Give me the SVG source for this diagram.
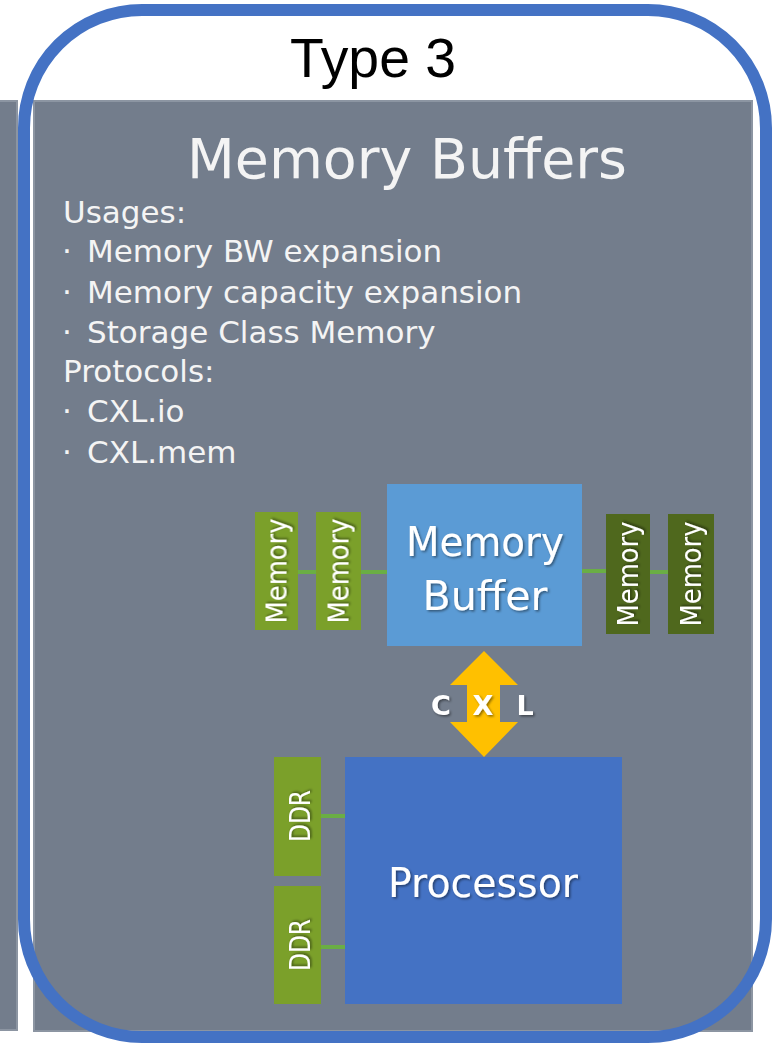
<svg xmlns="http://www.w3.org/2000/svg" width="782" height="1045" viewBox="0 0 782 1045">
  <defs>
    <filter id="shadow" x="-20%" y="-20%" width="140%" height="140%">
      <feDropShadow dx="1.5" dy="1.5" stdDeviation="1" flood-color="#000" flood-opacity="0.45"/>
    </filter>
    <style>
      .panel { fill: #737d8c; stroke: #8c95a2; stroke-width: 2; }
      .frame { fill: none; stroke: #4472c4; stroke-width: 12; }
      .txt { font-family: "DejaVu Sans", Verdana, sans-serif; fill: #f4f4f4; }
      .list { font-size: 31px; }
      .box-label { font-family: "DejaVu Sans", Verdana, sans-serif; fill: #ffffff; font-size: 40px; text-anchor: middle; filter: url(#shadow); }
      .stick-light { fill: #7ba02a; }
      .stick-dark { fill: #4f681d; }
      .stick-label { font-family: "DejaVu Sans", Verdana, sans-serif; fill: #ffffff; font-size: 29px; text-anchor: middle; filter: url(#shadow); }
      .link { stroke: #6aae45; stroke-width: 4; fill: none; }
      .cxl { font-family: "DejaVu Sans", Verdana, sans-serif; font-weight: bold; fill: #ffffff; font-size: 27px; text-anchor: middle; filter: url(#shadow); }
    </style>
  </defs>

  <rect width="782" height="1045" fill="#ffffff"/>

  <!-- neighbouring panel, cut at the left edge -->
  <rect class="panel" x="-4" y="101" width="21" height="929"/>

  <!-- main panel -->
  <rect class="panel" x="34" y="101" width="718" height="930"/>

  <!-- outer frame and heading -->
  <g id="frame">
    <rect class="frame" x="24" y="10" width="742" height="1027" rx="118" ry="118"/>
    <text x="373" y="77" font-family="'Liberation Sans', Arial, sans-serif" font-size="55" fill="#000" text-anchor="middle" textLength="166" lengthAdjust="spacingAndGlyphs">Type 3</text>
  </g>

  <!-- panel title and description -->
  <g id="description">
    <text class="txt" x="407" y="178" font-size="56" text-anchor="middle" textLength="440" lengthAdjust="spacingAndGlyphs">Memory  Buffers</text>
    <text class="txt list" x="63" y="223">Usages:</text>
    <text class="txt list" x="62" y="262">·<tspan x="87">Memory BW expansion</tspan></text>
    <text class="txt list" x="62" y="303">·<tspan x="87">Memory capacity expansion</tspan></text>
    <text class="txt list" x="62" y="343">·<tspan x="87">Storage Class Memory</tspan></text>
    <text class="txt list" x="63" y="382">Protocols:</text>
    <text class="txt list" x="62" y="422">·<tspan x="87">CXL.io</tspan></text>
    <text class="txt list" x="62" y="463">·<tspan x="87">CXL.mem</tspan></text>
  </g>

  <!-- connectors -->
  <g id="connectors">
    <line class="link" x1="298" y1="572" x2="316" y2="572"/>
    <line class="link" x1="361" y1="572" x2="387" y2="572"/>
    <line class="link" x1="582" y1="571" x2="606" y2="571"/>
    <line class="link" x1="650" y1="572" x2="668" y2="572"/>
    <line class="link" x1="321" y1="816" x2="345" y2="816"/>
    <line class="link" x1="321" y1="947" x2="345" y2="947"/>
    <polygon id="cxl-link" fill="#ffc000" points="484,651 518,685 500,685 500,722 518,722 484,757 450,722 467,722 467,685 450,685"/>
  </g>

  <g id="cxl-label">
    <text class="cxl" x="441" y="715">C</text>
    <text class="cxl" x="483" y="715">X</text>
    <text class="cxl" x="525" y="715">L</text>
  </g>

  <!-- memory buffer -->
  <g id="memory-buffer">
    <rect x="387" y="484" width="195" height="162" fill="#5b9bd5"/>
    <text class="box-label" x="485" y="556" textLength="158" lengthAdjust="spacingAndGlyphs">Memory</text>
    <text class="box-label" x="485" y="610" textLength="125" lengthAdjust="spacingAndGlyphs">Buffer</text>
  </g>

  <!-- memory modules -->
  <g id="memory-1">
    <rect class="stick-light" x="255" y="512" width="43" height="118"/>
    <text class="stick-label" transform="translate(276.5,571) rotate(-90)" y="10" textLength="105" lengthAdjust="spacingAndGlyphs">Memory</text>
  </g>
  <g id="memory-2">
    <rect class="stick-light" x="316" y="512" width="45" height="118"/>
    <text class="stick-label" transform="translate(338.5,571) rotate(-90)" y="10" textLength="105" lengthAdjust="spacingAndGlyphs">Memory</text>
  </g>
  <g id="memory-3">
    <rect class="stick-dark" x="606" y="514" width="44" height="120"/>
    <text class="stick-label" transform="translate(628,574) rotate(-90)" y="10" textLength="105" lengthAdjust="spacingAndGlyphs">Memory</text>
  </g>
  <g id="memory-4">
    <rect class="stick-dark" x="668" y="514" width="46" height="120"/>
    <text class="stick-label" transform="translate(691,574) rotate(-90)" y="10" textLength="105" lengthAdjust="spacingAndGlyphs">Memory</text>
  </g>

  <!-- processor and its DDR channels -->
  <g id="processor">
    <rect x="345" y="757" width="277" height="247" fill="#4472c4"/>
    <text class="box-label" x="483" y="897" textLength="190" lengthAdjust="spacingAndGlyphs">Processor</text>
  </g>
  <g id="ddr-1">
    <rect class="stick-light" x="274" y="757" width="47" height="119"/>
    <text class="stick-label" transform="translate(298,816) rotate(-90)" y="12" font-size="33" textLength="52" lengthAdjust="spacingAndGlyphs">DDR</text>
  </g>
  <g id="ddr-2">
    <rect class="stick-light" x="274" y="886" width="47" height="118"/>
    <text class="stick-label" transform="translate(298,945) rotate(-90)" y="12" font-size="33" textLength="52" lengthAdjust="spacingAndGlyphs">DDR</text>
  </g>
</svg>
